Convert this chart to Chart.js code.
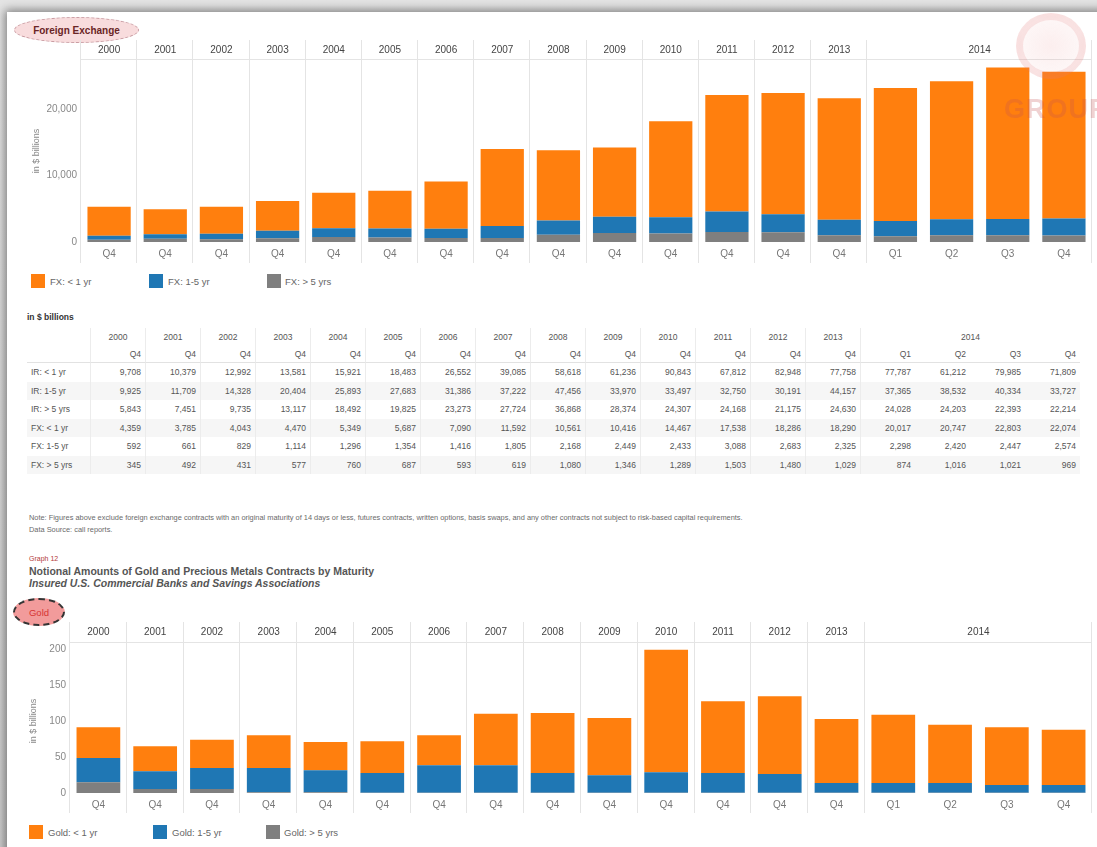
<!DOCTYPE html>
<html>
<head>
<meta charset="utf-8">
<title>Notional Amounts by Maturity</title>
<script src="https://cdn.jsdelivr.net/npm/chart.js@4/dist/chart.umd.min.js"></script>
<style>
  html, body { margin:0; padding:0; }
  body {
    width:1097px; height:847px; overflow:hidden; position:relative;
    background:linear-gradient(#e4e4e4, #cdcdcd);
    font-family:"Liberation Sans", Arial, sans-serif; color:#555;
  }
  #page {
    position:absolute; left:7px; top:12px; width:1110px; height:860px;
    background:#fff; box-shadow:0 0 9px 2px rgba(0,0,0,.45);
  }
  .abs { position:absolute; }
  canvas { position:absolute; left:0; }

  /* section badges */
  .badge {
    position:absolute; border-radius:50%; display:flex;
    align-items:center; justify-content:center; box-sizing:border-box;
  }
  #fxBadge {
    left:14px; top:17px; width:125px; height:26px;
    background:#f8dcdd; border:1.5px dashed #c99ca2;
    color:#6a2525; font-size:10px; font-weight:bold;
  }
  #goldBadge {
    left:13px; top:598px; width:52px; height:28px;
    background:#f29b9b; border:2px dashed #333;
    color:#d63333; font-size:9.5px;
  }

  /* legends */
  .lg { position:absolute; left:0; height:15px; width:400px; }
  .lg .sw { position:absolute; top:0; width:14px; height:14px; }
  .lg .lt { position:absolute; top:1px; font-size:9.5px; color:#666; line-height:13px; white-space:nowrap; }

  /* data table */
  #tblTitle { left:27px; top:312px; font-size:8.5px; font-weight:bold; color:#333; }
  #tbl {
    position:absolute; left:27px; top:328px; display:grid;
    grid-template-columns:63px repeat(18, 55px);
    grid-template-rows:18px 17px repeat(6, 18.5px);
    font-size:8.5px; color:#555;
  }
  #tbl div { box-sizing:border-box; white-space:nowrap; display:flex; align-items:center; padding:0 4px; }
  #tbl .yr { justify-content:center; color:#555; }
  #tbl .q { justify-content:flex-end; border-bottom:1px solid #e2e2e2; }
  #tbl .num { justify-content:flex-end; }
  #tbl .sep { border-left:1px solid #ececec; }
  #tbl .alt { background:#f6f6f6; }

  #note { left:29px; top:512px; font-size:7.4px; color:#6a6a6a; line-height:12px; white-space:nowrap; }
  #graphNo { left:29px; top:555px; font-size:7px; color:#b33a3a; }
  #gTitle { left:29px; top:565px; font-size:10.5px; font-weight:bold; color:#555; line-height:12px; white-space:nowrap; }
  #gTitle i { font-style:italic; }

  /* faint logo in the corner */
  #mark { left:1016px; top:13px; width:70px; height:66px; border-radius:50%;
    border:7px solid rgba(222,110,110,.16); box-sizing:border-box;
    background:radial-gradient(rgba(235,150,150,.16), rgba(235,150,150,.05)); }
  #markTxt { left:1004px; top:94px; font-size:27px; font-weight:bold; color:rgba(196,80,80,.26); letter-spacing:1px; }
</style>
</head>
<body>
<div id="page"></div>

<div id="fxBadge" class="badge">Foreign Exchange</div>
<canvas id="fxChart" width="1092" height="225" style="top:38px"></canvas>
<div id="fxLegend"></div>

<div id="tblTitle" class="abs">in $ billions</div>
<div id="tbl"></div>

<div id="note" class="abs">Note: Figures above exclude foreign exchange contracts with an original maturity of 14 days or less, futures contracts, written options, basis swaps, and any other contracts not subject to risk-based capital requirements.<br>Data Source: call reports.</div>

<div id="graphNo" class="abs">Graph 12</div>
<div id="gTitle" class="abs">Notional Amounts of Gold and Precious Metals Contracts by Maturity<br><i>Insured U.S. Commercial Banks and Savings Associations</i></div>

<div id="goldBadge" class="badge">Gold</div>
<canvas id="goldChart" width="1092" height="192" style="top:621px"></canvas>
<div id="goldLegend"></div>

<div id="mark" class="abs"></div>
<div id="markTxt" class="abs">GROUP</div>

<script>
// ---- data (in $ billions) ----
const years    = ['2000','2001','2002','2003','2004','2005','2006','2007','2008','2009','2010','2011','2012','2013','2014','2014','2014','2014'];
const quarters = ['Q4','Q4','Q4','Q4','Q4','Q4','Q4','Q4','Q4','Q4','Q4','Q4','Q4','Q4','Q1','Q2','Q3','Q4'];

const irLt1  = [9708, 10379, 12992, 13581, 15921, 18483, 26552, 39085, 58618, 61236, 90843, 67812, 82948, 77758, 77787, 61212, 79985, 71809];
const ir1to5 = [9925, 11709, 14328, 20404, 25893, 27683, 31386, 37222, 47456, 33970, 33497, 32750, 30191, 44157, 37365, 38532, 40334, 33727];
const irGt5  = [5843, 7451, 9735, 13117, 18492, 19825, 23273, 27724, 36868, 28374, 24307, 24168, 21175, 24630, 24028, 24203, 22393, 22214];
const fxLt1  = [4359, 3785, 4043, 4470, 5349, 5687, 7090, 11592, 10561, 10416, 14467, 17538, 18286, 18290, 20017, 20747, 22803, 22074];
const fx1to5 = [592, 661, 829, 1114, 1296, 1354, 1416, 1805, 2168, 2449, 2433, 3088, 2683, 2325, 2298, 2420, 2447, 2574];
const fxGt5  = [345, 492, 431, 577, 760, 687, 593, 619, 1080, 1346, 1289, 1503, 1480, 1029, 874, 1016, 1021, 969];

const goldLt1  = [42.6, 34.7, 39.4, 45.4, 39.3, 44, 41.7, 71.8, 83.3, 79.7, 170.3, 99.5, 107.9, 88.9, 94.9, 81, 80.1, 76.9];
const gold1to5 = [33.8, 24.5, 29.1, 33.7, 30.5, 27.3, 37.9, 37.9, 27.3, 24, 28.2, 27.3, 25.9, 13.4, 13.4, 13.4, 10.6, 10.6];
const goldGt5  = [14.8, 5.6, 5.6, 1, 1, 0.5, 0.5, 0.5, 0.5, 0.5, 0.5, 0.5, 0.5, 0.5, 0.5, 0.5, 0.5, 0.5];

const fxNames   = ['FX: < 1 yr', 'FX: 1-5 yr', 'FX: > 5 yrs'];
const goldNames = ['Gold: < 1 yr', 'Gold: 1-5 yr', 'Gold: > 5 yrs'];
const rowNames  = ['IR: < 1 yr', 'IR: 1-5 yr', 'IR: > 5 yrs', 'FX: < 1 yr', 'FX: 1-5 yr', 'FX: > 5 yrs'];

const fxTicks   = [0, 10000, 20000];
const goldTicks = [0, 50, 100, 150, 200];

const ORANGE = '#ff7f0e', BLUE = '#1f77b4', GRAY = '#7f7f7f';
const FONT = '"Liberation Sans", Arial, sans-serif';

// consecutive equal years -> one header span
function spans(list){
  const out = [];
  list.forEach((y, i) => {
    const g = out[out.length - 1];
    if (g && g.label === y) g.end = i;
    else out.push({ label:y, start:i, end:i });
  });
  return out;
}

// year header row + column separators, positioned from the x scale
const yearHeader = {
  id: 'yearHeader',
  beforeDatasetsDraw(chart, args, o){
    const { ctx, chartArea:a, scales:{ x } } = chart;
    const half = (x.getPixelForValue(1) - x.getPixelForValue(0)) / 2;
    const groups = spans(o.years);
    ctx.save();
    ctx.strokeStyle = '#e4e4e4';
    ctx.lineWidth = 1;
    ctx.beginPath();
    ctx.moveTo(a.left, o.ruleY + .5);
    ctx.lineTo(a.right, o.ruleY + .5);
    const edges = [a.left, ...groups.map(g => x.getPixelForValue(g.end) + half)];
    edges.forEach(px => {
      const p = Math.round(px) - .5;
      ctx.moveTo(p, o.top);
      ctx.lineTo(p, chart.height);
    });
    ctx.stroke();
    ctx.fillStyle = '#444';
    ctx.font = '10px ' + FONT;
    ctx.textAlign = 'center';
    ctx.textBaseline = 'middle';
    groups.forEach(g => {
      const cx = (x.getPixelForValue(g.start) + x.getPixelForValue(g.end)) / 2;
      ctx.fillText(g.label, cx, o.textY);
    });
    ctx.restore();
  }
};

function stackedBars(id, o){
  const [lt1, mid, gt5] = o.series;
  const ds = [
    { label:o.names[2], data:gt5, backgroundColor:GRAY },
    { label:o.names[1], data:mid, backgroundColor:BLUE },
    { label:o.names[0], data:lt1, backgroundColor:ORANGE },
  ].map(d => ({ ...d, borderWidth:0, barPercentage:0.77, categoryPercentage:1 }));

  return new Chart(document.getElementById(id), {
    type: 'bar',
    data: { labels: quarters, datasets: ds },
    options: {
      responsive: false,
      animation: false,
      devicePixelRatio: 1,
      layout: { padding: { top:o.padTop, left:0, right:0, bottom:0 } },
      plugins: {
        legend: { display:false },
        tooltip: { enabled:false },
        yearHeader: { years, top:o.lineTop, ruleY:o.ruleY, textY:o.textY },
      },
      scales: {
        x: {
          stacked: true,
          grid: { display:false, drawTicks:false },
          border: { display:false },
          ticks: { color:'#777', font:{ size:10, family:FONT }, padding:6, maxRotation:0, autoSkip:false },
          afterFit: s => { s.height = o.axisH; },
        },
        y: {
          stacked: true,
          min: 0,
          max: o.max,
          grid: { display:false, drawTicks:false },
          border: { display:false },
          afterBuildTicks: s => { s.ticks = o.ticks.map(v => ({ value:v })); },
          ticks: {
            color:'#888', font:{ size:10, family:FONT }, padding:4,
            callback: v => Number(v).toLocaleString('en-US'),
          },
          title: {
            display: true, text:'in $ billions', color:'#888',
            font:{ size:9, family:FONT }, padding:{ top:o.titlePad, bottom:0 },
          },
          afterFit: s => { s.width = o.axisW; },
        },
      },
    },
    plugins: [yearHeader],
  });
}

stackedBars('fxChart', {
  series: [fxLt1, fx1to5, fxGt5], names: fxNames,
  max: 27400, ticks: fxTicks,
  padTop: 22, axisH: 21, axisW: 81, titlePad: 31,
  lineTop: 2, ruleY: 21, textY: 12,
});

stackedBars('goldChart', {
  series: [goldLt1, gold1to5, goldGt5], names: goldNames,
  max: 200, ticks: goldTicks,
  padTop: 28, axisH: 20, axisW: 70, titlePad: 28,
  lineTop: 1, ruleY: 21, textY: 11,
});

// legends below each chart
function legend(id, names, top, boxX, textX){
  const host = document.getElementById(id);
  host.className = 'lg';
  host.style.top = top + 'px';
  [ORANGE, BLUE, GRAY].forEach((c, i) => {
    const sw = document.createElement('span');
    sw.className = 'sw';
    sw.style.left = boxX[i] + 'px';
    sw.style.background = c;
    const t = document.createElement('span');
    t.className = 'lt';
    t.style.left = textX[i] + 'px';
    t.textContent = names[i];
    host.append(sw, t);
  });
}
legend('fxLegend', fxNames, 274, [31, 149, 267], [50, 168, 285]);
legend('goldLegend', goldNames, 825, [29, 153, 266], [48, 172, 284]);

// table of notional amounts
(function buildTable(){
  const tbl = document.getElementById('tbl');
  const groups = spans(years);
  const firstOfGroup = new Set(groups.map(g => g.start));
  const add = (text, cls, col, row, span) => {
    const d = document.createElement('div');
    d.className = cls;
    d.textContent = text;
    d.style.gridRow = String(row);
    d.style.gridColumn = span ? `${col} / span ${span}` : String(col);
    tbl.appendChild(d);
  };
  groups.forEach(g => add(g.label, 'yr sep', g.start + 2, 1, g.end - g.start + 1));
  add('', 'q', 1, 2);
  quarters.forEach((q, i) => add(q, 'q' + (firstOfGroup.has(i) ? ' sep' : ''), i + 2, 2));
  [irLt1, ir1to5, irGt5, fxLt1, fx1to5, fxGt5].forEach((vals, r) => {
    const alt = r % 2 === 1 ? ' alt' : '';
    add(rowNames[r], 'lab' + alt, 1, r + 3);
    vals.forEach((v, i) => add(v.toLocaleString('en-US'), 'num' + alt + (firstOfGroup.has(i) ? ' sep' : ''), i + 2, r + 3));
  });
})();
</script>
</body>
</html>
